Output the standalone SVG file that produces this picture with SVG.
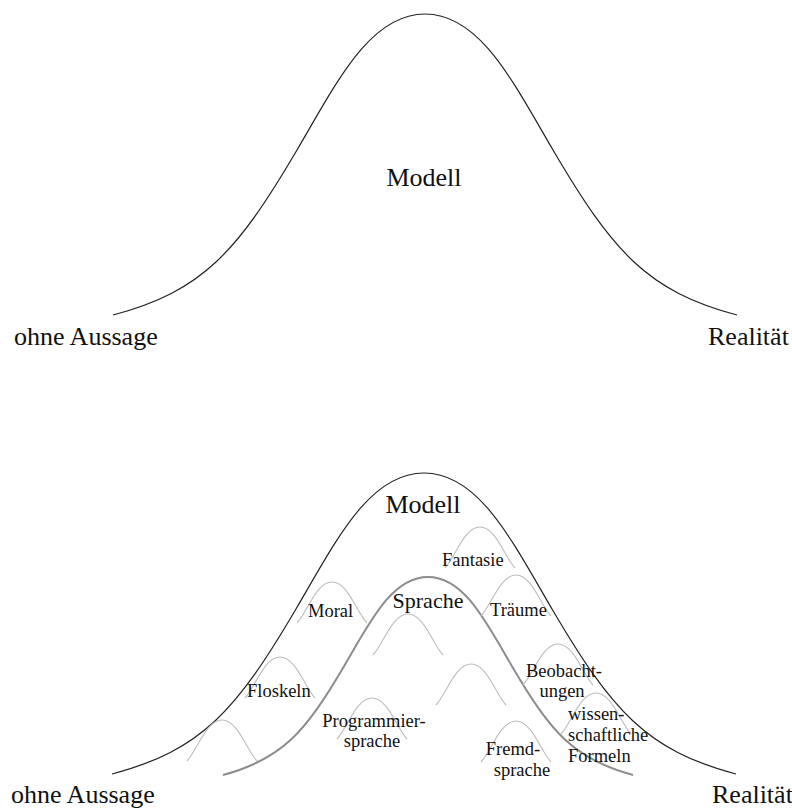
<svg xmlns="http://www.w3.org/2000/svg" xmlns:xlink="http://www.w3.org/1999/xlink" width="792" height="810" viewBox="0 0 792 810">
  <style>
    .lbl { font-family: "Liberation Serif", "Times New Roman", serif; fill: #111; }
    .big { font-size: 26px; }
    .mid { font-size: 22px; }
    .small { font-size: 18.5px; }
    .outer { fill: none; stroke: #222; stroke-width: 1.2; }
    .inner { fill: none; stroke: #8c8c8c; stroke-width: 2; }
    .bump { fill: none; stroke: #bdbdbd; stroke-width: 1.1; }
  </style>
  <defs>
    <!-- large bell curve, peak at (425,14), feet on y=315 -->
    <path id="bell" d="M113,315 C203,291 237,252 297,150 C337,82 370,14 425,14 C480,14 513,82 553,150 C613,252 647,291 737,315"/>
    <!-- small bump, origin at the middle of its base -->
    <path id="bump" d="M-35,0 C-25,-10 -16,-41 0,-41 C16,-41 25,-10 35,0"/>
  </defs>
  <rect width="792" height="810" fill="#fff"/>

  <!-- upper figure -->
  <g id="top-model">
    <use xlink:href="#bell" href="#bell" class="outer"/>
    <text class="lbl big" x="424" y="186" text-anchor="middle">Modell</text>
  </g>
  <g id="top-left-label"><text class="lbl big" x="14" y="345">ohne Aussage</text></g>
  <g id="top-right-label"><text class="lbl big" x="708" y="345">Realität</text></g>

  <!-- lower figure -->
  <g id="bottom-model">
    <use xlink:href="#bell" href="#bell" class="outer" transform="translate(-1,459)"/>
    <text class="lbl big" x="423" y="513" text-anchor="middle">Modell</text>
  </g>
  <g id="bottom-left-label"><text class="lbl big" x="11" y="803">ohne Aussage</text></g>
  <g id="bottom-right-label"><text class="lbl big" x="712" y="803">Realität</text></g>

  <g id="sprache">
    <path class="inner" d="M223,775 C282,759 304.5,733.4 343.9,666.4 C370.2,621.7 391.9,577 428,577 C464.1,577 485.8,621.7 512.1,666.4 C551.5,733.4 573.9,759 633,775"/>
    <text class="lbl mid" x="428" y="608" text-anchor="middle">Sprache</text>
  </g>

  <g id="bumps">
    <use xlink:href="#bump" href="#bump" class="bump" x="332" y="623"/>
    <use xlink:href="#bump" href="#bump" class="bump" x="280" y="698"/>
    <use xlink:href="#bump" href="#bump" class="bump" x="222" y="761"/>
    <use xlink:href="#bump" href="#bump" class="bump" x="408" y="655"/>
    <use xlink:href="#bump" href="#bump" class="bump" x="372" y="739"/>
    <use xlink:href="#bump" href="#bump" class="bump" x="471" y="705"/>
    <use xlink:href="#bump" href="#bump" class="bump" x="480" y="568"/>
    <use xlink:href="#bump" href="#bump" class="bump" x="516" y="616"/>
    <use xlink:href="#bump" href="#bump" class="bump" x="558" y="685"/>
    <use xlink:href="#bump" href="#bump" class="bump" x="596" y="734"/>
    <use xlink:href="#bump" href="#bump" class="bump" x="516" y="762"/>
  </g>

  <g id="moral"><text class="lbl small" x="308" y="617">Moral</text></g>
  <g id="floskeln"><text class="lbl small" x="247" y="697">Floskeln</text></g>
  <g id="programmiersprache">
    <text class="lbl small" x="374" y="727" text-anchor="middle">Programmier-</text>
    <text class="lbl small" x="372" y="747" text-anchor="middle">sprache</text>
  </g>
  <g id="fantasie"><text class="lbl small" x="442" y="566">Fantasie</text></g>
  <g id="traeume"><text class="lbl small" x="490" y="616">Träume</text></g>
  <g id="beobachtungen">
    <text class="lbl small" x="564" y="677" text-anchor="middle">Beobacht-</text>
    <text class="lbl small" x="562" y="697" text-anchor="middle">ungen</text>
  </g>
  <g id="formeln">
    <text class="lbl small" x="568" y="720">wissen-</text>
    <text class="lbl small" x="568" y="741">schaftliche</text>
    <text class="lbl small" x="568" y="762">Formeln</text>
  </g>
  <g id="fremdsprache">
    <text class="lbl small" x="513" y="755" text-anchor="middle">Fremd-</text>
    <text class="lbl small" x="522" y="776" text-anchor="middle">sprache</text>
  </g>
</svg>
